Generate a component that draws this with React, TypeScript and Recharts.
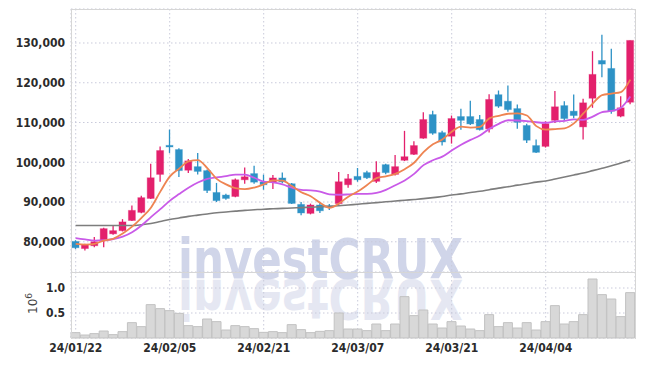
import React from 'react';
import { ComposedChart, Bar, Line, XAxis, YAxis, CartesianGrid } from 'recharts';

const dates = [
  '24/01/22', '24/01/23', '24/01/24', '24/01/25', '24/01/26', '24/01/29', '24/01/30', '24/01/31', '24/02/01', '24/02/02',
  '24/02/05', '24/02/06', '24/02/07', '24/02/08', '24/02/13', '24/02/14', '24/02/15', '24/02/16', '24/02/19', '24/02/20',
  '24/02/21', '24/02/22', '24/02/23', '24/02/26', '24/02/27', '24/02/28', '24/02/29', '24/03/04', '24/03/05', '24/03/06',
  '24/03/07', '24/03/08', '24/03/11', '24/03/12', '24/03/13', '24/03/14', '24/03/15', '24/03/18', '24/03/19', '24/03/20',
  '24/03/21', '24/03/22', '24/03/25', '24/03/26', '24/03/27', '24/03/28', '24/03/29', '24/04/01', '24/04/02', '24/04/03',
  '24/04/04', '24/04/05', '24/04/08', '24/04/09', '24/04/11', '24/04/12', '24/04/15', '24/04/16', '24/04/17', '24/04/18',
];
const tickDates = ['24/01/22', '24/02/05', '24/02/21', '24/03/07', '24/03/21', '24/04/04'];

const opens = [
  80100, 78300, 79000, 80200, 82000, 82800, 85350, 87400, 90900, 96950,
  104250, 103200, 98000, 98900, 97900, 92400, 91750, 91400, 95600, 97150,
  95050, 94950, 96050, 94600, 89400, 87150, 89250, 89050, 89600, 94350,
  96450, 97400, 95200, 99400, 96950, 100500, 102000, 106050, 112000, 107450,
  106550, 111500, 111500, 110750, 108400, 117000, 115350, 113500, 109250, 104200,
  104000, 110550, 114250, 112850, 108900, 116100, 125600, 123600, 111600, 115100,
];
const highs = [
  80400, 79500, 81200, 83500, 84200, 85700, 89150, 91600, 99650, 103950,
  108200, 103500, 100850, 102350, 98200, 94800, 92100, 95900, 98700, 99150,
  96900, 96800, 97450, 94800, 90000, 89600, 90000, 89500, 97550, 97050,
  98550, 97850, 100250, 99600, 101850, 107900, 105300, 112600, 112950, 107900,
  111750, 113450, 115450, 111900, 117100, 118050, 119300, 114500, 109700, 105700,
  110300, 117950, 115350, 117050, 115950, 127950, 132100, 128550, 116600, 130650,
];
const lows = [
  78200, 77800, 78600, 78650, 81800, 82600, 85200, 87200, 90750, 95100,
  102350, 96300, 97300, 96950, 92250, 90000, 90600, 91200, 94600, 94600,
  93100, 93300, 94700, 89500, 86650, 86900, 87250, 88000, 89050, 93600,
  95100, 95800, 94800, 97000, 96700, 100300, 101800, 105900, 106900, 104200,
  104700, 108200, 109400, 108000, 107500, 113700, 112700, 108400, 104850, 102300,
  103700, 109900, 110300, 111100, 105700, 113700, 121400, 112200, 111300, 114600,
];
const closes = [
  78500, 79250, 80000, 83300, 82800, 85000, 87900, 91100, 96100, 102950,
  103850, 97900, 100350, 97700, 92900, 90350, 90900, 95600, 96350, 95000,
  94350, 96050, 95050, 89650, 87250, 89250, 87800, 88750, 95100, 95850,
  95600, 96100, 97450, 97400, 98900, 101400, 104200, 110750, 107300, 105100,
  111000, 110550, 109650, 108200, 115800, 114100, 113250, 110050, 105550, 102500,
  109700, 113950, 111000, 111750, 114950, 122100, 124700, 112850, 113700, 130650,
];
const ma5 = [
  79500, 79300, 79500, 80300, 80770, 82070, 83800, 86020, 88580, 92610,
  96380, 98380, 100230, 100550, 98540, 95840, 94440, 93490, 93220, 93640,
  94440, 95470, 95360, 94020, 92470, 91450, 89800, 88540, 89630, 91350,
  92620, 94280, 96020, 96480, 97090, 98250, 99870, 102530, 104510, 105750,
  107670, 108940, 108720, 108900, 111040, 111660, 112200, 112280, 111750, 109090,
  108210, 108350, 108540, 109780, 112270, 114750, 116900, 117270, 117660, 120800,
];
const ma10 = [
  80900, 80600, 80300, 80400, 80700, 81300, 82400, 84100, 86200, 88200,
  90300, 92000, 93600, 94900, 95800, 96200, 96500, 96900, 96900, 96100,
  95140, 94960, 94430, 93620, 93060, 92950, 92640, 91950, 91830, 91910,
  92040, 92040, 92280, 93060, 94220, 95440, 97080, 99280, 100500, 101420,
  102960, 104400, 105630, 106710, 108400, 109670, 110570, 110500, 110330, 110070,
  109940, 110280, 110410, 110770, 110680, 111480, 112630, 112910, 113720, 116540,
];
const maLong = [
  84100, 84100, 84100, 84100, 84100, 84100, 84100, 84300, 84600, 85100,
  85600, 86000, 86400, 86700, 87000, 87300, 87500, 87700, 87900, 88050,
  88200, 88300, 88400, 88500, 88600, 88700, 88800, 88900, 89050, 89250,
  89450, 89650, 89850, 90050, 90250, 90450, 90650, 90850, 91100, 91400,
  91750, 92050, 92400, 92700, 93100, 93500, 93850, 94250, 94600, 95000,
  95300, 95800, 96300, 96800, 97300, 97900, 98500, 99100, 99800, 100500,
];
const volumes = [
  107000, 60000, 87000, 140000, 67000, 127000, 307000, 227000, 667000, 587000,
  547000, 493000, 247000, 227000, 380000, 327000, 160000, 247000, 227000, 187000,
  113000, 127000, 107000, 267000, 167000, 107000, 133000, 147000, 500000, 180000,
  180000, 147000, 280000, 147000, 280000, 827000, 447000, 560000, 280000, 200000,
  327000, 240000, 180000, 147000, 467000, 227000, 307000, 200000, 307000, 160000,
  327000, 647000, 280000, 327000, 467000, 1180000, 867000, 780000, 427000, 907000,
];
const priceTicks = [80000, 90000, 100000, 110000, 120000, 130000];
const volumeTicks = [500000, 1000000];

const data = dates.map((date, i) => ({
  date,
  open: opens[i],
  high: highs[i],
  low: lows[i],
  close: closes[i],
  range: [lows[i], highs[i]],
  ma5: ma5[i],
  ma10: ma10[i],
  maLong: maLong[i],
  volume: volumes[i],
}));

const UP = '#e3206c';
const DOWN = '#2d92c6';
const GRID = '#c9cadb';
const FONT = '"DejaVu Sans Condensed", "Liberation Sans Narrow", "DejaVu Sans", sans-serif';
const tickStyle = { fill: '#2b2b2b', fontSize: 12, fontWeight: 700, fontFamily: FONT };
const MARK_FONT = '"DejaVu Sans", sans-serif';

const Candle = (props: any) => {
  const { x, y, width, height, payload } = props;
  if (!payload) return null;
  const { open, close, high, low } = payload;
  const top = Math.min(y, y + height);
  const h = Math.abs(height);
  const k = h / (high - low || 1);
  const bodyTop = top + (high - Math.max(open, close)) * k;
  const bodyBot = top + (high - Math.min(open, close)) * k;
  const color = close >= open ? UP : DOWN;
  const cx = x + width / 2;
  return (
    <g>
      <line x1={cx} x2={cx} y1={top} y2={top + h} stroke={color} strokeWidth={1.3} />
      <rect x={x} y={bodyTop} width={width} height={Math.max(1.5, bodyBot - bodyTop)} fill={color} stroke={color} strokeOpacity={0.35} strokeWidth={1} />
    </g>
  );
};

const App: React.FC = () => {
  return (
    <div style={{ position: 'absolute', left: 0, top: 0, width: 645, height: 366, background: '#fff', overflow: 'hidden' }}>
      <svg width={645} height={366} style={{ position: 'absolute', left: 0, top: 0 }}>
        <text x={178} y={278} textLength={285} lengthAdjust="spacingAndGlyphs" fontSize={56} fontWeight={700}
          fontFamily={MARK_FONT} fill="#d0d5e9">investCRUX</text>
        <g transform="translate(0 558) scale(1 -1)" opacity={0.55}>
          <text x={178} y={278} textLength={285} lengthAdjust="spacingAndGlyphs" fontSize={56} fontWeight={700}
            fontFamily={MARK_FONT} fill="#d0d5e9">investCRUX</text>
        </g>
        <text x={37} y={314} transform="rotate(-90 37 314)" fontSize={12} fill="#444" fontFamily='"DejaVu Sans", sans-serif'>
          10<tspan dy={-5} fontSize={9}>6</tspan>
        </text>
      </svg>

      <div style={{ position: 'absolute', left: 0, top: 0 }}>
        <ComposedChart width={645} height={272} data={data} margin={{ top: 9, right: 10, bottom: 0, left: 0 }}>
          <CartesianGrid stroke={GRID} strokeDasharray="1.5 2.5" />
          <XAxis dataKey="date" hide ticks={tickDates} interval={0} />
          <YAxis width={71} domain={[72400, 138550]} ticks={priceTicks} axisLine={false} tickLine={false}
            tickSize={0} tickMargin={6} tick={tickStyle} tickFormatter={(v: number) => v.toLocaleString('en-US')} />
          <Line type="monotone" dataKey="maLong" stroke="#7d7d7d" strokeWidth={1.6} dot={false} activeDot={false} isAnimationActive={false} />
          <Line type="monotone" dataKey="ma10" stroke="#c95ae8" strokeWidth={1.8} dot={false} activeDot={false} isAnimationActive={false} />
          <Line type="monotone" dataKey="ma5" stroke="#ee8452" strokeWidth={1.8} dot={false} activeDot={false} isAnimationActive={false} />
          <Bar dataKey="range" barSize={7} shape={Candle} isAnimationActive={false} />
        </ComposedChart>
      </div>

      <div style={{ position: 'absolute', left: 0, top: 272 }}>
        <ComposedChart width={645} height={94} data={data} margin={{ top: 0, right: 10, bottom: 0, left: 0 }} barCategoryGap={0}>
          <CartesianGrid stroke={GRID} strokeDasharray="1.5 2.5" />
          <XAxis dataKey="date" ticks={tickDates} interval={0} height={28} axisLine={false} tickLine={false}
            tickSize={0} tickMargin={5} tick={tickStyle} />
          <YAxis width={71} domain={[0, 1320000]} ticks={volumeTicks} axisLine={false} tickLine={false}
            tickSize={0} tickMargin={6} tick={tickStyle} tickFormatter={(v: number) => (v / 1000000).toFixed(1)} />
          <Bar dataKey="volume" fill="#d8d8d8" stroke="#c2c2c2" strokeWidth={1} isAnimationActive={false} />
        </ComposedChart>
      </div>

      <div style={{ position: 'absolute', left: 71, top: 9, width: 563, height: 329, borderLeft: '1px solid #d6d6d6', borderTop: '1px solid #d6d6d6', borderRight: '1px solid #d6d6d6', pointerEvents: 'none' }} />
      <div style={{ position: 'absolute', left: 71, top: 272, width: 565, height: 0, borderTop: '1px solid #d6d6d6', pointerEvents: 'none' }} />
    </div>
  );
};

export default App;
